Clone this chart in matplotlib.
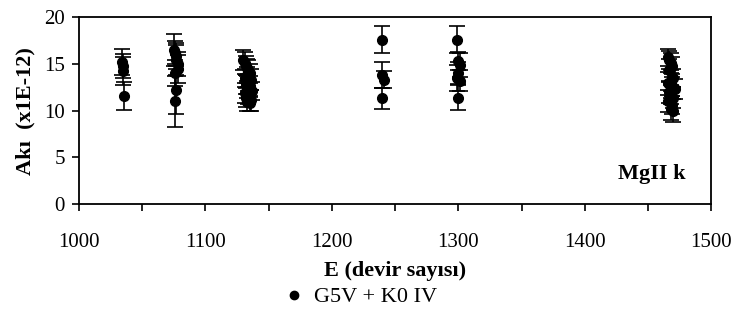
import matplotlib.pyplot as plt
from matplotlib.lines import Line2D
import numpy as np

plt.rcParams['font.family'] = ['Liberation Serif', 'DejaVu Serif']

# E (cycle number), flux (x1E-12) and its error
E = [1034, 1035, 1035, 1036,
     1075, 1076, 1077, 1077, 1078, 1078, 1076, 1077, 1076,
     1130, 1131, 1132, 1133, 1134, 1135, 1133, 1131, 1136, 1134,
     1132, 1135, 1133, 1137, 1131, 1134, 1132, 1136, 1133, 1135,
     1240, 1240, 1241, 1240,
     1299, 1300, 1301, 1300, 1299, 1301, 1300,
     1466, 1467, 1468, 1469, 1467, 1470, 1468, 1466, 1469, 1471,
     1467, 1468, 1470, 1466, 1469, 1468, 1470]
flux = [15.2, 14.8, 14.2, 11.6,
        16.5, 16.2, 15.8, 15.4, 15.0, 14.4, 14.0, 12.2, 11.0,
        15.4, 15.1, 14.8, 14.6, 14.3, 14.0, 13.8, 13.5, 13.3, 13.0,
        12.8, 12.6, 12.3, 12.1, 11.9, 11.6, 11.4, 11.1, 10.9, 10.8,
        17.6, 13.8, 13.3, 11.3,
        17.6, 15.3, 14.9, 14.0, 13.5, 13.2, 11.4,
        15.7, 15.4, 15.1, 14.8, 14.3, 13.5, 13.2, 12.9, 12.6, 12.3,
        12.0, 11.7, 11.4, 11.0, 10.6, 10.2, 10.0]
err = [1.4, 1.3, 1.5, 1.5,
       1.7, 1.2, 1.4, 1.6, 1.3, 1.5, 1.4, 2.6, 2.7,
       1.1, 1.2, 1.0, 0.9, 1.1, 1.0, 0.9, 1.0, 1.1, 0.9,
       1.0, 1.1, 0.9, 1.0, 1.1, 0.9, 1.0, 1.1, 0.9, 0.8,
       1.4, 1.4, 0.9, 1.1,
       1.4, 1.0, 1.3, 1.2, 1.4, 1.1, 1.3,
       0.9, 1.0, 1.1, 0.9, 1.2, 1.0, 1.1, 1.2, 1.0, 1.1,
       1.2, 1.0, 1.1, 1.2, 1.0, 1.2, 1.2]

fig = plt.figure(figsize=(7.37, 3.22), dpi=100)
ax = fig.add_axes([0.107, 0.366, 0.858, 0.581])

ax.errorbar(E, flux, yerr=err, fmt='o', color='black', ms=7,
            capsize=6, elinewidth=1.2, capthick=1.2)

ax.set_xlim(1000, 1500)
ax.set_ylim(0, 20)
ax.set_xticks(np.arange(1000, 1501, 100))
ax.set_xticks(np.arange(1050, 1500, 100), minor=True)
ax.set_yticks([0, 5, 10, 15, 20])
ax.tick_params(which='both', direction='out', length=5, width=1.2, labelsize=15)
ax.tick_params(axis='x', pad=16)
ax.tick_params(axis='y', pad=5)
for s in ax.spines.values():
    s.set_linewidth(1.3)

ax.set_xlabel('E (devir sayısı)', fontsize=16, fontweight='bold', labelpad=6)
ax.set_ylabel('Akı  (x1E-12)', fontsize=16, fontweight='bold', labelpad=6)
ax.text(0.96, 0.16, 'MgII k', transform=ax.transAxes, ha='right', va='center',
        fontsize=16, fontweight='bold')

dot = Line2D([], [], ls='none', marker='o', color='black', ms=6)
fig.legend([dot], ['G5V + K0 IV'], loc='center', bbox_to_anchor=(0.49, 0.077),
           frameon=False, fontsize=16, handletextpad=0.5, handlelength=0.8)

fig.savefig('out.png', dpi=100)
